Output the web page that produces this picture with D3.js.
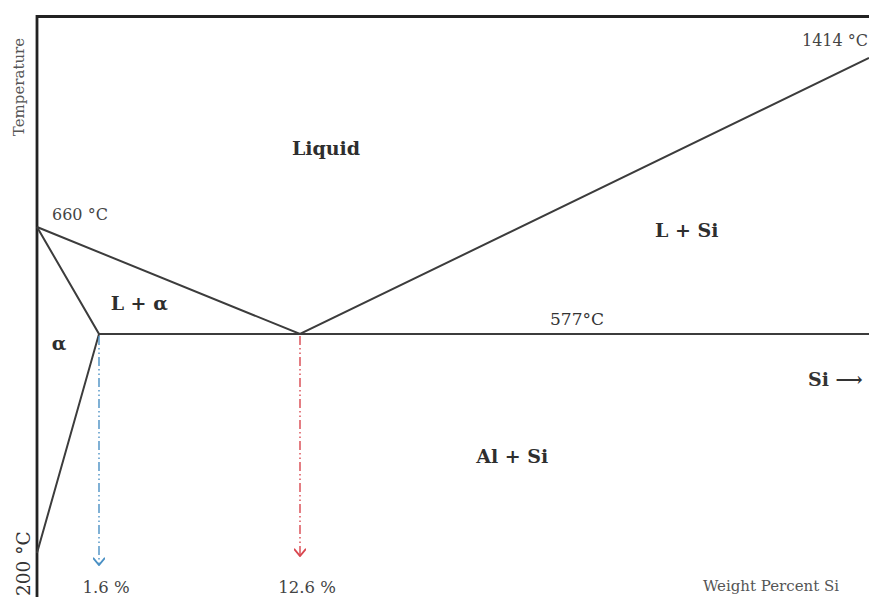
<!DOCTYPE html>
<html>
<head>
<meta charset="utf-8">
<script src="https://cdn.jsdelivr.net/npm/d3@7"></script>
<style>
  body { margin: 0; background: #fff; }
  svg { display: block; font-family: "DejaVu Serif", "Liberation Serif", serif; }
</style>
</head>
<body>
<div id="chart"></div>
<script>
// Key points of the Al-Si phase diagram (wt% Si, temperature in deg C)
const meltAl = {si: 0, t: 660};
const solvusLow = {si: 0, t: 200};
const maxSolubility = {si: 1.6, t: 577};
const eutectic = {si: 12.6, t: 577};
const meltSi = {si: 100, t: 1414};

// schematic (not to scale) break points for the axes
const siBreaks = [0, 1.6, 12.6, 100];
const tempBreaks = [200, 577, 660, 1414];

const regionLabels = [
    {text: 'Liquid', si: 16.6, t: 981},
    {text: 'L + Si', si: 72, t: 652},
    {text: 'L + α', si: 3.8, t: 596},
    {text: 'α', si: 0.57, t: 549},
    {text: 'Al + Si', si: 45.2, t: 355},
];

const markers = [
    {text: '1.6 %', si: 1.6, color: '#4a90c4', end: 565},
    {text: '12.6 %', si: 12.6, color: '#d9474f', end: 556},
];

const width = 869, height = 597;

const x = d3.scaleLinear().domain(siBreaks).range([37, 99, 300, 869]);
const y = d3.scaleLinear().domain(tempBreaks).range([553, 334, 227, 58]);

const svg = d3.select('#chart').append('svg')
    .attr('width', width)
    .attr('height', height);

svg.append('defs').selectAll('marker')
    .data(markers)
    .join('marker')
    .attr('id', (d, i) => 'arrow' + i)
    .attr('viewBox', '0 0 10 10')
    .attr('refX', 5)
    .attr('refY', 9)
    .attr('markerWidth', 12)
    .attr('markerHeight', 12)
    .attr('markerUnits', 'userSpaceOnUse')
    .attr('orient', 0)
    .append('path')
    .attr('d', 'M0,3 L5,9 L10,3')
    .attr('fill', 'none')
    .attr('stroke', d => d.color)
    .attr('stroke-width', 1.6);

// frame (top and left only, the rest is cropped)
svg.append('path')
    .attr('d', `M${x(0)},${height} V16.5 H${width}`)
    .attr('fill', 'none')
    .attr('stroke', '#222')
    .attr('stroke-width', 2.8);

const lineColor = '#3c3c3c';
const line = d3.line().x(d => x(d.si)).y(d => y(d.t));

// liquidus lines
svg.append('path').datum([meltAl, eutectic, meltSi])
    .attr('d', line).attr('fill', 'none')
    .attr('stroke', lineColor).attr('stroke-width', 2);
// solidus and solvus
svg.append('path').datum([meltAl, maxSolubility, solvusLow])
    .attr('d', line).attr('fill', 'none')
    .attr('stroke', lineColor).attr('stroke-width', 2);
// eutectic isotherm
svg.append('path').datum([maxSolubility, {si: 100, t: 577}])
    .attr('d', line).attr('fill', 'none')
    .attr('stroke', lineColor).attr('stroke-width', 2);

// composition markers
svg.selectAll('.drop')
    .data(markers)
    .join('line')
    .attr('class', 'drop')
    .attr('x1', d => x(d.si))
    .attr('x2', d => x(d.si))
    .attr('y1', y(577) + 2)
    .attr('y2', d => d.end)
    .attr('stroke', d => d.color)
    .attr('stroke-width', 1.4)
    .attr('stroke-dasharray', '9,3,1.5,3,1.5,3')
    .attr('marker-end', (d, i) => `url(#arrow${i})`);

svg.selectAll('.pct')
    .data(markers)
    .join('text')
    .attr('class', 'pct')
    .attr('x', d => x(d.si) + 7)
    .attr('y', 593)
    .attr('text-anchor', 'middle')
    .attr('font-size', 16.5)
    .attr('fill', '#444')
    .text(d => d.text);

svg.selectAll('.region')
    .data(regionLabels)
    .join('text')
    .attr('class', 'region')
    .attr('x', d => x(d.si))
    .attr('y', d => y(d.t))
    .attr('text-anchor', 'middle')
    .attr('font-size', 19)
    .attr('font-weight', 'bold')
    .attr('fill', '#2e2e2e')
    .text(d => d.text);

// temperature labels
svg.append('text')
    .attr('x', 52).attr('y', 220)
    .attr('font-size', 16).attr('fill', '#444')
    .text('660 °C');
svg.append('text')
    .attr('x', 577).attr('y', 325)
    .attr('text-anchor', 'middle')
    .attr('font-size', 17).attr('fill', '#333')
    .text('577°C');
svg.append('text')
    .attr('x', 802).attr('y', 46)
    .attr('font-size', 16).attr('fill', '#444')
    .text('1414 °C');
svg.append('text')
    .attr('transform', 'translate(30,596) rotate(-90)')
    .attr('font-size', 18.5).attr('fill', '#333')
    .text('200 °C');

// axis titles
svg.append('text')
    .attr('transform', 'translate(24,87) rotate(-90)')
    .attr('text-anchor', 'middle')
    .attr('font-size', 15).attr('fill', '#555')
    .text('Temperature');
svg.append('text')
    .attr('x', 771).attr('y', 591)
    .attr('text-anchor', 'middle')
    .attr('font-size', 15).attr('fill', '#555')
    .text('Weight Percent Si');

svg.append('text')
    .attr('x', 808).attr('y', 386)
    .attr('font-size', 19).attr('font-weight', 'bold').attr('fill', '#333')
    .text('Si ⟶');
</script>
</body>
</html>
